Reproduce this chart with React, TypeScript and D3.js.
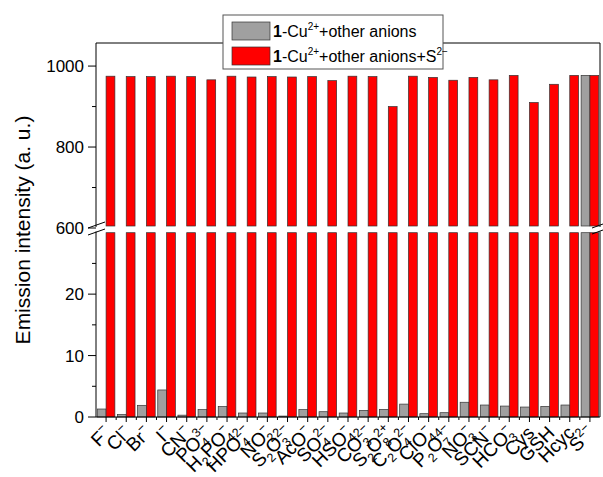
import React from "react";
import * as d3 from "d3";

// category labels: parts = [text, kind] kind: n normal, b sub, p sup, s sup stacked over preceding sub
const categories = ["F","Cl","Br","I","CN","PO4","H2PO4","HPO4","NO2","S2O3","AcO","SO4","HSO4","CO3","S2O8","C2O4","ClO4","P2O7","NO3","SCN","HCO3","Cys","GSH","Hcyc","S2"];
const labelParts: [string, string][][] = [
  [["F","n"],["−","p"]],
  [["Cl","n"],["−","p"]],
  [["Br","n"],["−","p"]],
  [["I","n"],["−","p"]],
  [["CN","n"],["−","p"]],
  [["PO","n"],["4","b"],["3−","s"]],
  [["H","n"],["2","b"],["PO","n"],["4","b"],["−","s"]],
  [["HPO","n"],["4","b"],["2−","s"]],
  [["NO","n"],["2","b"],["−","s"]],
  [["S","n"],["2","b"],["O","n"],["3","b"],["2−","s"]],
  [["AcO","n"],["−","p"]],
  [["SO","n"],["4","b"],["2−","s"]],
  [["HSO","n"],["4","b"],["−","s"]],
  [["CO","n"],["3","b"],["2−","s"]],
  [["S","n"],["2","b"],["O","n"],["8","b"],["2+","s"]],
  [["C","n"],["2","b"],["O","n"],["4","b"],["2−","s"]],
  [["ClO","n"],["4","b"],["−","s"]],
  [["P","n"],["2","b"],["O","n"],["7","b"],["4−","s"]],
  [["NO","n"],["3","b"],["−","s"]],
  [["SCN","n"],["−","p"]],
  [["HCO","n"],["3","b"],["−","s"]],
  [["Cys","n"]],
  [["GSH","n"]],
  [["Hcyc","n"]],
  [["S","n"],["2−","p"]],
];
const greyValues = [1.3,0.4,1.9,4.4,0.3,1.2,1.7,0.65,0.65,0.15,1.2,0.86,0.65,1.08,1.24,2.1,0.54,0.7,2.4,1.95,1.78,1.62,1.73,1.95,977];
const redValues = [975,974,974,975,974,966,975,973,974,973,974,964,975,974,900,975,972,965,972,966,977,910,955,977,977];
const lowerTicks = [0,10,20];
const lowerMinor = [5,15,25];
const upperTicks = [600,800,1000];
const upperMinor = [700,900];

const FONT = "Arial, 'Liberation Sans', sans-serif";

export default function App() {
  const W = 603, H = 477;
  const left = 96, right = 600, top = 43, bottom = 417;
  const lowTop = 232.7, upBottom = 226;
  const x = d3.scaleBand<string>().domain(categories).range([left, right]).paddingInner(0).paddingOuter(0);
  const yLow = d3.scaleLinear().domain([0, 30]).range([bottom, lowTop]);
  const yUp = d3.scaleLinear().domain([600, 1057]).range([228, top]);
  const bw = 8.8;
  const bar = (v: number, i: number, kind: "g" | "r") => {
    const c = (x(categories[i]) as number) + x.bandwidth() / 2;
    const bx = kind === "g" ? c - bw : c;
    const fill = kind === "g" ? "#a0a0a0" : "#ff0000";
    const out: React.ReactNode[] = [];
    const lowY = v >= 30 ? lowTop : yLow(v);
    out.push(<rect key={kind + "l" + i} x={bx} y={lowY} width={bw} height={bottom - lowY} fill={fill} stroke="#333" strokeWidth={0.7} />);
    if (v > 600) {
      const uy = yUp(v);
      out.push(<rect key={kind + "u" + i} x={bx} y={uy} width={bw} height={upBottom - uy} fill={fill} stroke="#333" strokeWidth={0.7} />);
    }
    return out;
  };
  const renderLabel = (parts: [string, string][], key: number) => {
    const c = (x(categories[key]) as number) + x.bandwidth() / 2;
    const ax = c + 6, ay = 434;
    const nodes: React.ReactNode[] = [];
    let shift = 0;
    parts.forEach((p, j) => {
      const [t, k] = p;
      let fs = 19;
      let dx = 0;
      let newShift = 0;
      if (k === "b") { fs = 12.5; newShift = 5; }
      else if (k === "p" || k === "s") { fs = 12.5; newShift = -8.5; }
      if (k === "s") dx = -7;
      const dy = newShift - shift;
      shift = newShift;
      nodes.push(<tspan key={j} dx={dx} dy={dy} fontSize={fs}>{t}</tspan>);
    });
    return (
      <g key={"lab" + key} transform={`translate(${ax},${ay}) rotate(-45)`}>
        <text x={0} y={0} textAnchor="end" fontFamily={FONT} fontSize={19} fill="#000">{nodes}</text>
      </g>
    );
  };
  return (
    <svg width={W} height={H} style={{ position: "absolute", left: 0, top: 0 }}>
      <rect x={0} y={0} width={W} height={H} fill="#fff" />
      {greyValues.map((v, i) => bar(v, i, "g"))}
      {redValues.map((v, i) => bar(v, i, "r"))}
      <g stroke="#000" strokeWidth={1} fill="none">
        <line x1={left} y1={top} x2={left} y2={227} />
        <line x1={left} y1={231.5} x2={left} y2={bottom} />
        <line x1={right} y1={top} x2={right} y2={227} />
        <line x1={right} y1={231.5} x2={right} y2={bottom} />
        <line x1={left} y1={top} x2={right} y2={top} />
        <line x1={left} y1={bottom} x2={right} y2={bottom} />
        <line x1={88} y1={228} x2={105} y2={222} />
        <line x1={88} y1={235} x2={105} y2={229} />
        <line x1={592} y1={228} x2={603} y2={224} />
        <line x1={592} y1={234} x2={603} y2={230} />
      </g>
      <g stroke="#000" strokeWidth={1}>
        {lowerTicks.map(t => <line key={"lt" + t} x1={left - 8} x2={left} y1={yLow(t)} y2={yLow(t)} />)}
        {lowerMinor.map(t => <line key={"lm" + t} x1={left - 4} x2={left} y1={yLow(t)} y2={yLow(t)} />)}
        {upperTicks.map(t => <line key={"ut" + t} x1={left - 8} x2={left} y1={yUp(t)} y2={yUp(t)} />)}
        {upperMinor.map(t => <line key={"um" + t} x1={left - 4} x2={left} y1={yUp(t)} y2={yUp(t)} />)}
        {categories.map((c, i) => {
          const cx = (x(c) as number) + x.bandwidth() / 2;
          return <line key={"xt" + i} x1={cx} x2={cx} y1={bottom} y2={bottom + 5} />;
        })}
        {categories.slice(1).map((c, i) => {
          const bx = x(c) as number;
          return <line key={"xm" + i} x1={bx} x2={bx} y1={bottom} y2={bottom + 3} />;
        })}
      </g>
      <g fontFamily={FONT} fontSize={17} fill="#000" textAnchor="end">
        {lowerTicks.map(t => <text key={"ll" + t} x={84} y={yLow(t) + 6}>{t}</text>)}
        {upperTicks.map(t => <text key={"ul" + t} x={84} y={yUp(t) + 6}>{t}</text>)}
      </g>
      <text transform={`translate(30,230) rotate(-90)`} textAnchor="middle" fontFamily={FONT} fontSize={21} fill="#000">Emission intensity (a. u.)</text>
      {labelParts.map((p, i) => renderLabel(p, i))}
      <rect x={223} y={15} width={220} height={54} fill="#fff" stroke="#555" strokeWidth={1} />
      <rect x={232} y={22} width={38} height={18} fill="#a0a0a0" stroke="#333" strokeWidth={0.7} />
      <rect x={232} y={47} width={38} height={18} fill="#ff0000" stroke="#333" strokeWidth={0.7} />
      <text x={273} y={37} fontFamily={FONT} fontSize={16} fill="#000">
        <tspan fontWeight="bold">1</tspan>-Cu<tspan fontSize={10} dy={-7}>2+</tspan><tspan dy={7}>+other anions</tspan>
      </text>
      <text x={273} y={62} fontFamily={FONT} fontSize={16} fill="#000">
        <tspan fontWeight="bold">1</tspan>-Cu<tspan fontSize={10} dy={-7}>2+</tspan><tspan dy={7}>+other anions+S</tspan><tspan fontSize={10} dy={-7}>2−</tspan>
      </text>
    </svg>
  );
}
